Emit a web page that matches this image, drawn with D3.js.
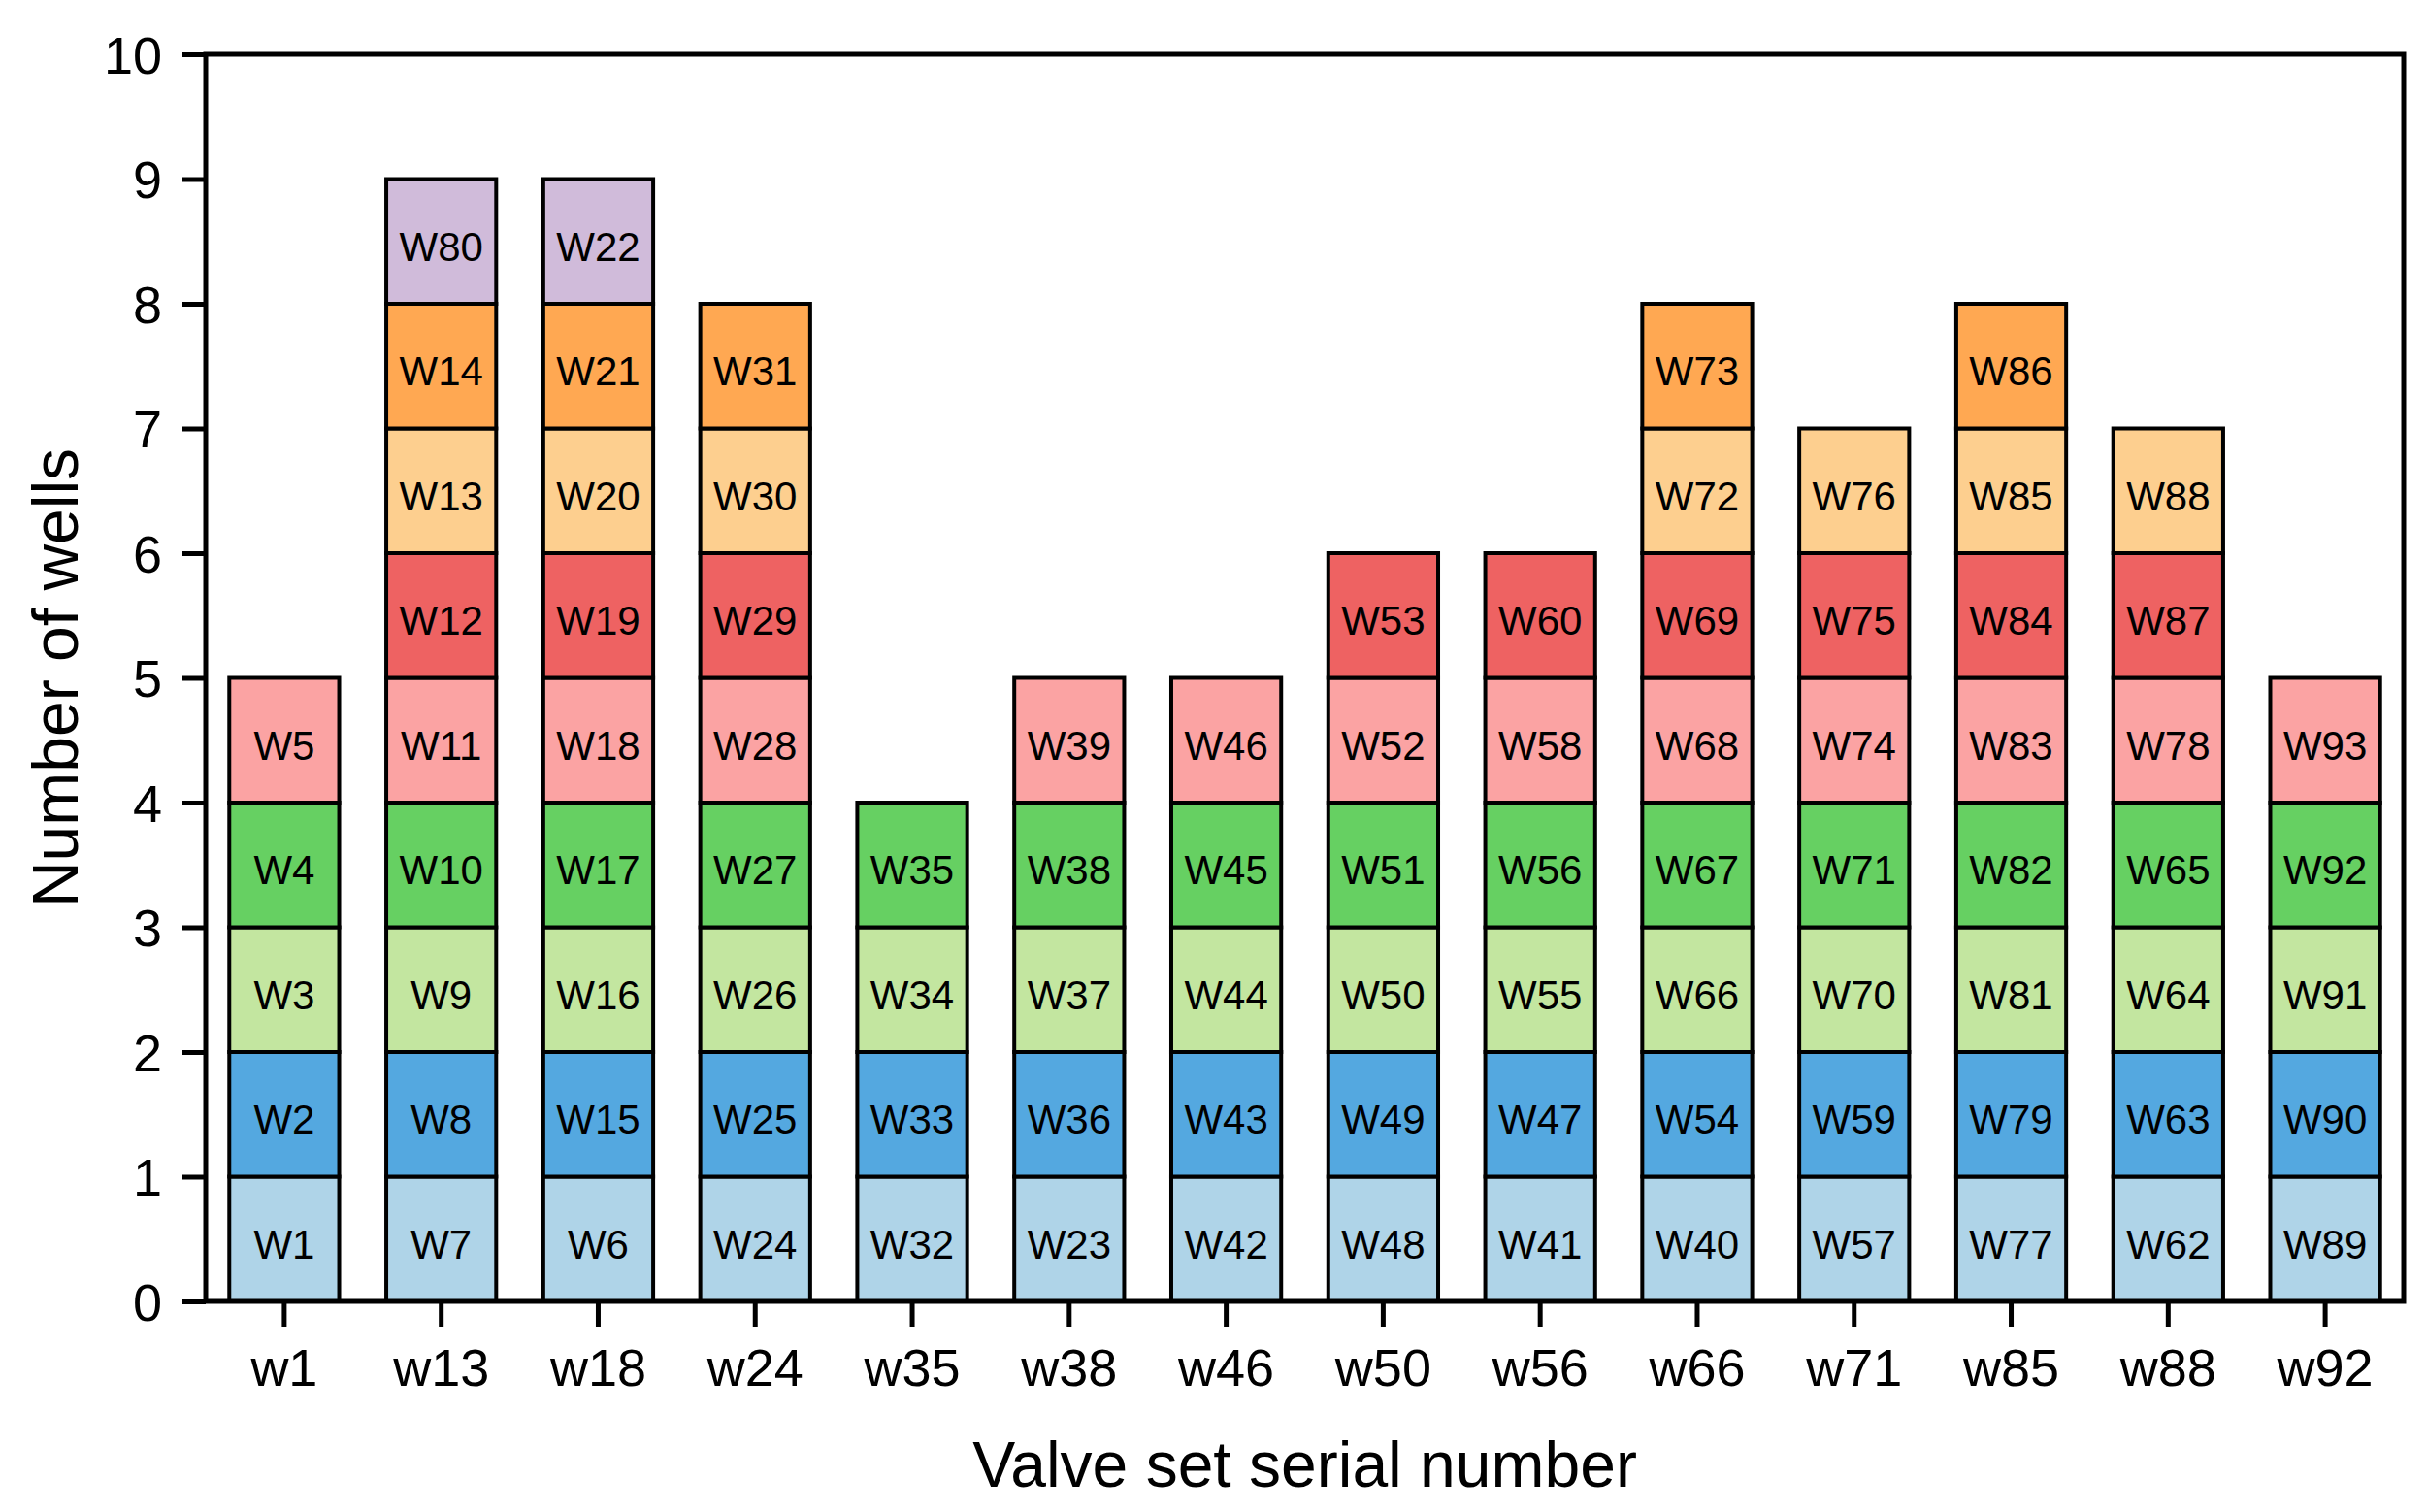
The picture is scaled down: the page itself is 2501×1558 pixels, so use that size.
<!DOCTYPE html>
<html>
<head>
<meta charset="utf-8">
<script src="https://cdn.jsdelivr.net/npm/d3@7"></script>
<style>
  html, body { margin: 0; padding: 0; background: #fff; }
  svg { display: block; }
  text { font-family: Arial, "Liberation Sans", sans-serif; fill: #000; }
</style>
</head>
<body>
<svg id="chart" width="2501" height="1558"></svg>
<script>
// ---- Data ----
const categories = ["w1", "w13", "w18", "w24", "w35", "w38", "w46", "w50", "w56", "w66", "w71", "w85", "w88", "w92"];

// wells stacked in each valve set, bottom to top
const wellsW1  = ["W1", "W2", "W3", "W4", "W5"];
const wellsW13 = ["W7", "W8", "W9", "W10", "W11", "W12", "W13", "W14", "W80"];
const wellsW18 = ["W6", "W15", "W16", "W17", "W18", "W19", "W20", "W21", "W22"];
const wellsW24 = ["W24", "W25", "W26", "W27", "W28", "W29", "W30", "W31"];
const wellsW35 = ["W32", "W33", "W34", "W35"];
const wellsW38 = ["W23", "W36", "W37", "W38", "W39"];
const wellsW46 = ["W42", "W43", "W44", "W45", "W46"];
const wellsW50 = ["W48", "W49", "W50", "W51", "W52", "W53"];
const wellsW56 = ["W41", "W47", "W55", "W56", "W58", "W60"];
const wellsW66 = ["W40", "W54", "W66", "W67", "W68", "W69", "W72", "W73"];
const wellsW71 = ["W57", "W59", "W70", "W71", "W74", "W75", "W76"];
const wellsW85 = ["W77", "W79", "W81", "W82", "W83", "W84", "W85", "W86"];
const wellsW88 = ["W62", "W63", "W64", "W65", "W78", "W87", "W88"];
const wellsW92 = ["W89", "W90", "W91", "W92", "W93"];

const wellLists = [wellsW1, wellsW13, wellsW18, wellsW24, wellsW35, wellsW38, wellsW46,
                   wellsW50, wellsW56, wellsW66, wellsW71, wellsW85, wellsW88, wellsW92];

const levelKeys = ["L1", "L2", "L3", "L4", "L5", "L6", "L7", "L8", "L9"];
const levelColors = ["#afd4e8", "#54a8e0", "#c3e6a0", "#66d062", "#fba3a3", "#ee6262", "#fdcf8f", "#ffa852", "#d0bbda"];

const yTicks = [0, 1, 2, 3, 4, 5, 6, 7, 8, 9, 10];
const xTitle = "Valve set serial number";
const yTitle = "Number of wells";

// ---- Build table (each well counts as 1) ----
const table = categories.map((c, i) => {
  const row = { category: c };
  levelKeys.forEach((k, j) => { row[k] = j < wellLists[i].length ? 1 : 0; });
  return row;
});

// ---- Layout ----
const W = 2501, H = 1558;
const margin = { left: 212, right: 24, top: 56, bottom: 217 };
const iw = W - margin.left - margin.right;
const ih = H - margin.top - margin.bottom;

const svg = d3.select("#chart");
const g = svg.append("g").attr("transform", `translate(${margin.left},${margin.top})`);

const x = d3.scaleBand().domain(categories).range([0, iw]).paddingInner(0.3).paddingOuter(0.15);
const y = d3.scaleLinear().domain([0, 10]).range([ih, 0]);
const color = d3.scaleOrdinal().domain(levelKeys).range(levelColors);

const series = d3.stack().keys(levelKeys)(table);

// ---- Bars ----
const layer = g.selectAll("g.layer").data(series).join("g")
  .attr("class", "layer")
  .attr("fill", d => color(d.key));

layer.selectAll("rect")
  .data(d => d.map((p, i) => ({ p, i, key: d.key })).filter(o => o.p[1] - o.p[0] > 0))
  .join("rect")
  .attr("x", o => x(categories[o.i]))
  .attr("width", x.bandwidth())
  .attr("y", o => y(o.p[1]))
  .attr("height", o => y(o.p[0]) - y(o.p[1]))
  .attr("stroke", "#000")
  .attr("stroke-width", 4);

// labels
series.forEach((s, j) => {
  s.forEach((p, i) => {
    if (p[1] - p[0] <= 0) return;
    g.append("text")
      .attr("x", x(categories[i]) + x.bandwidth() / 2)
      .attr("y", y((p[0] + p[1]) / 2))
      .attr("dy", "0.48em")
      .attr("text-anchor", "middle")
      .attr("font-size", 42)
      .text(wellLists[i][j]);
  });
});

// ---- Axes ----
const yAxis = g.append("g")
  .call(d3.axisLeft(y).tickValues(yTicks).tickFormat(d3.format("d")).tickSize(24).tickPadding(21));
yAxis.select(".domain").remove();
yAxis.selectAll(".tick line").attr("stroke", "#000").attr("stroke-width", 5);
yAxis.selectAll(".tick text").attr("font-size", 54).attr("dy", "0.36em").style("font-family", "Arial, 'Liberation Sans', sans-serif");

const xAxis = g.append("g")
  .attr("transform", `translate(0,${ih})`)
  .call(d3.axisBottom(x).tickSize(26).tickPadding(0));
xAxis.select(".domain").remove();
xAxis.selectAll(".tick line").attr("stroke", "#000").attr("stroke-width", 5);
xAxis.selectAll(".tick text").attr("font-size", 54).attr("y", 87).attr("dy", 0).style("font-family", "Arial, 'Liberation Sans', sans-serif");

// frame
g.append("rect")
  .attr("x", 0).attr("y", 0).attr("width", iw).attr("height", ih)
  .attr("fill", "none").attr("stroke", "#000").attr("stroke-width", 5);

// ---- Titles ----
svg.append("text")
  .attr("x", margin.left + iw / 2)
  .attr("y", 1532)
  .attr("text-anchor", "middle")
  .attr("font-size", 66)
  .text(xTitle);

svg.append("text")
  .attr("transform", `translate(80,${margin.top + ih / 2}) rotate(-90)`)
  .attr("text-anchor", "middle")
  .attr("font-size", 66)
  .text(yTitle);
</script>
</body>
</html>
